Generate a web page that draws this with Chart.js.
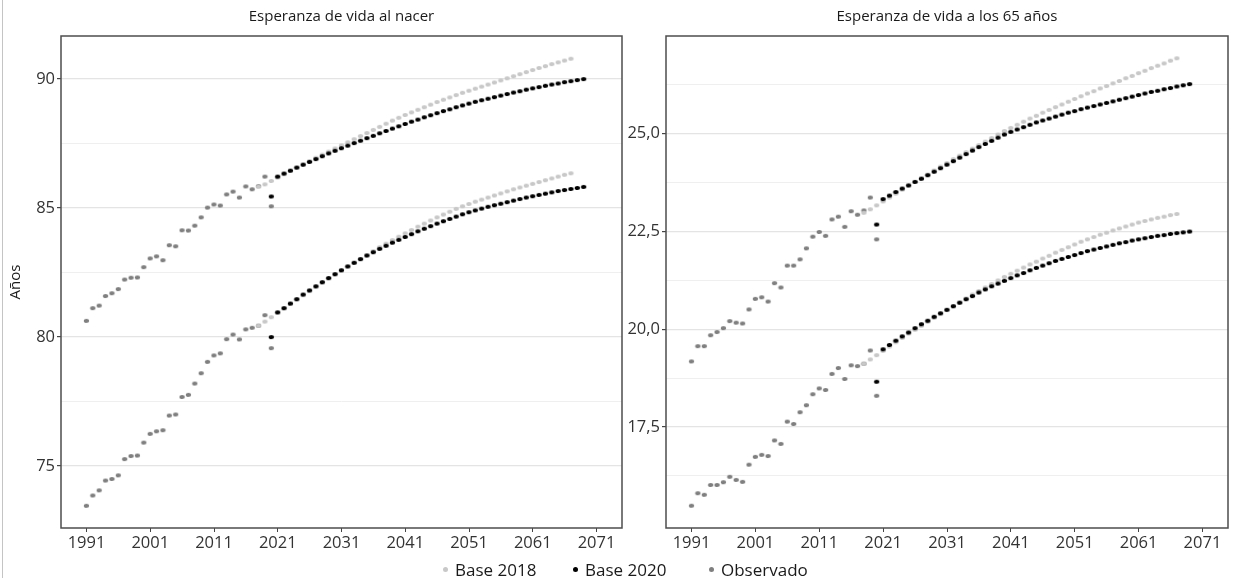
<!DOCTYPE html>
<html lang="es">
<head>
<meta charset="utf-8">
<title>Esperanza de vida</title>
<script src="https://cdn.jsdelivr.net/npm/chart.js@4.4.1/dist/chart.umd.min.js"></script>
<style>
  html, body { margin: 0; padding: 0; background: #ffffff; }
  body { width: 1234px; height: 578px; position: relative; overflow: hidden;
         font-family: "Open Sans", "Noto Sans", sans-serif; }
  canvas { position: absolute; top: 0; }
  #cNacer { left: 0; }
  #c65 { left: 626px; }
  #edge { position: absolute; left: 2px; top: 0; width: 1px; height: 578px; background: #c4c4c4; }
  .leg { position: absolute; top: 558px; height: 22px; display: flex; align-items: center;
         font-size: 17px; color: #1a1a1a; white-space: nowrap; }
  .leg i { display: inline-block; width: 5px; height: 5px; border-radius: 50%; margin-right: 7px; }
</style>
</head>
<body>
<canvas id="cNacer" width="626" height="578"></canvas>
<canvas id="c65" width="608" height="578"></canvas>
<div id="edge"></div>
<div class="leg" style="left:443px"><i style="background:#c8c8c8"></i>Base 2018</div>
<div class="leg" style="left:573px"><i style="background:#000000"></i>Base 2020</div>
<div class="leg" style="left:709px"><i style="background:#7f7f7f"></i>Observado</div>
<script>
// ---- Years ----
const obsYears = [1991,1992,1993,1994,1995,1996,1997,1998,1999,2000,
  2001,2002,2003,2004,2005,2006,2007,2008,2009,2010,
  2011,2012,2013,2014,2015,2016,2017,2018,2019,2020];
const base2018Years = [2018,2019,2020,2021,2022,2023,2024,2025,2026,2027,
  2028,2029,2030,2031,2032,2033,2034,2035,2036,2037,
  2038,2039,2040,2041,2042,2043,2044,2045,2046,2047,
  2048,2049,2050,2051,2052,2053,2054,2055,2056,2057,
  2058,2059,2060,2061,2062,2063,2064,2065,2066,2067];
const base2020Years = [2020,2021,2022,2023,2024,2025,2026,2027,2028,2029,
  2030,2031,2032,2033,2034,2035,2036,2037,2038,2039,
  2040,2041,2042,2043,2044,2045,2046,2047,2048,2049,
  2050,2051,2052,2053,2054,2055,2056,2057,2058,2059,
  2060,2061,2062,2063,2064,2065,2066,2067,2068,2069];

// ---- Esperanza de vida al nacer ----
const nacerObsMujeres = [80.63,81.12,81.22,81.59,81.70,81.86,82.23,82.30,82.31,82.71,
  83.05,83.13,82.98,83.56,83.52,84.14,84.13,84.32,84.64,85.02,
  85.14,85.10,85.53,85.64,85.41,85.84,85.73,85.85,86.22,85.07];
const nacerObsHombres = [73.46,73.86,74.06,74.44,74.50,74.64,75.27,75.39,75.41,75.91,
  76.25,76.35,76.39,76.96,77.00,77.68,77.76,78.20,78.60,79.04,
  79.29,79.37,79.92,80.10,79.91,80.30,80.36,80.44,80.85,79.57];
const nacerB18Mujeres = [85.83,85.92,86.05,86.18,86.31,86.44,86.57,86.70,86.82,86.95,
  87.07,87.19,87.31,87.43,87.55,87.67,87.79,87.91,88.03,88.15,
  88.27,88.39,88.50,88.61,88.71,88.81,88.91,89.01,89.11,89.20,
  89.29,89.38,89.47,89.55,89.63,89.71,89.79,89.87,89.95,90.03,
  90.11,90.19,90.27,90.35,90.43,90.50,90.58,90.65,90.72,90.79];
const nacerB18Hombres = [80.44,80.60,80.77,80.94,81.11,81.28,81.45,81.62,81.78,81.94,
  82.10,82.26,82.42,82.58,82.73,82.88,83.03,83.18,83.33,83.48,
  83.62,83.76,83.89,84.02,84.15,84.28,84.40,84.52,84.64,84.75,
  84.86,84.97,85.07,85.16,85.25,85.33,85.41,85.49,85.57,85.65,
  85.73,85.80,85.87,85.94,86.01,86.08,86.15,86.22,86.29,86.35];
const nacerB20Mujeres = [85.45,86.22,86.34,86.45,86.57,86.68,86.79,86.90,87.01,87.12,
  87.22,87.32,87.42,87.52,87.61,87.71,87.80,87.90,87.99,88.08,
  88.17,88.26,88.35,88.43,88.52,88.60,88.68,88.76,88.83,88.91,
  88.98,89.05,89.12,89.18,89.24,89.30,89.36,89.42,89.48,89.53,
  89.59,89.64,89.69,89.74,89.79,89.83,89.88,89.92,89.96,90.00];
const nacerB20Hombres = [80.00,80.96,81.12,81.30,81.47,81.65,81.81,81.97,82.13,82.29,
  82.44,82.59,82.74,82.88,83.02,83.16,83.29,83.42,83.54,83.66,
  83.77,83.88,83.99,84.10,84.20,84.30,84.40,84.49,84.58,84.67,
  84.76,84.84,84.91,84.98,85.05,85.11,85.17,85.23,85.29,85.35,
  85.41,85.46,85.51,85.56,85.61,85.66,85.70,85.74,85.78,85.82];

// ---- Esperanza de vida a los 65 años ----
const e65ObsMujeres = [19.18,19.57,19.57,19.85,19.93,20.03,20.21,20.17,20.15,20.51,
  20.78,20.82,20.71,21.18,21.07,21.63,21.63,21.79,22.07,22.37,
  22.49,22.39,22.81,22.88,22.62,23.02,22.93,23.04,23.37,22.30];
const e65ObsHombres = [15.49,15.81,15.77,16.02,16.02,16.09,16.23,16.15,16.10,16.54,
  16.74,16.79,16.76,17.16,17.07,17.64,17.58,17.88,18.06,18.34,
  18.49,18.45,18.86,19.01,18.73,19.08,19.06,19.12,19.46,18.30];
const e65B18Mujeres = [22.98,23.07,23.17,23.27,23.37,23.47,23.57,23.67,23.77,23.87,
  23.96,24.06,24.16,24.25,24.35,24.44,24.53,24.62,24.71,24.80,
  24.89,24.98,25.07,25.15,25.23,25.31,25.39,25.46,25.54,25.61,
  25.68,25.75,25.82,25.89,25.96,26.03,26.09,26.16,26.22,26.29,
  26.35,26.42,26.48,26.55,26.61,26.68,26.74,26.80,26.87,26.93];
const e65B18Hombres = [19.12,19.23,19.34,19.45,19.56,19.67,19.78,19.89,19.99,20.09,
  20.19,20.29,20.39,20.49,20.59,20.69,20.79,20.89,20.98,21.07,
  21.16,21.25,21.34,21.42,21.50,21.58,21.66,21.73,21.81,21.88,
  21.96,22.03,22.10,22.17,22.24,22.30,22.36,22.42,22.47,22.53,
  22.58,22.63,22.68,22.73,22.77,22.81,22.85,22.88,22.92,22.95];
const e65B20Mujeres = [22.68,23.33,23.42,23.51,23.60,23.68,23.77,23.85,23.94,24.03,
  24.12,24.21,24.30,24.39,24.48,24.57,24.66,24.74,24.82,24.90,
  24.98,25.05,25.11,25.17,25.23,25.29,25.34,25.39,25.44,25.49,
  25.54,25.58,25.63,25.67,25.71,25.75,25.79,25.83,25.87,25.91,
  25.95,25.99,26.03,26.07,26.10,26.14,26.17,26.21,26.24,26.27];
const e65B20Hombres = [18.66,19.49,19.60,19.71,19.82,19.92,20.03,20.13,20.22,20.32,
  20.41,20.50,20.59,20.68,20.77,20.85,20.94,21.02,21.10,21.17,
  21.24,21.31,21.38,21.44,21.51,21.57,21.63,21.69,21.75,21.80,
  21.85,21.90,21.95,22.00,22.04,22.08,22.12,22.16,22.20,22.23,
  22.27,22.30,22.33,22.36,22.39,22.41,22.44,22.46,22.48,22.50];

// ---- Axis ticks ----
const xTicks = [1991,2001,2011,2021,2031,2041,2051,2061,2071];
const nacerYTicks = [75,80,85,90];
const nacerYMinor = [77.5,82.5,87.5];
const e65YTicks = [17.5,20,22.5,25];
const e65YMinor = [16.25,18.75,21.25,23.75,26.25];

const COLORS = { b18: '#c8c8c8', b20: '#000000', obs: '#7f7f7f' };
const FONT = '"Open Sans", "Noto Sans", sans-serif';

// small elliptical marker
function dot(color) {
  const c = document.createElement('canvas');
  c.width = 7; c.height = 6;
  const g = c.getContext('2d');
  g.fillStyle = color;
  g.beginPath();
  g.ellipse(3.5, 3, 2.7, 2.1, 0, 0, Math.PI * 2);
  g.fill();
  return c;
}

function pairs(years, values) {
  return years.map((y, i) => ({ x: y, y: values[i] }));
}

// panel frame around the plotting area
const framePlugin = {
  id: 'frame',
  afterDraw(chart) {
    const a = chart.chartArea, ctx = chart.ctx;
    ctx.save();
    ctx.strokeStyle = '#4d4d4d';
    ctx.lineWidth = 1.5;
    ctx.strokeRect(a.left, a.top, a.right - a.left, a.bottom - a.top);
    ctx.restore();
  }
};

function panel(canvasId, opts) {
  const datasets = [
    { label: 'Base 2020', order: 0,
      data: pairs(base2020Years, opts.b20M).concat(pairs(base2020Years, opts.b20H)),
      pointStyle: dot(COLORS.b20) },
    { label: 'Base 2018', order: 1,
      data: pairs(base2018Years, opts.b18M).concat(pairs(base2018Years, opts.b18H)),
      pointStyle: dot(COLORS.b18) },
    { label: 'Observado', order: 2,
      data: pairs(obsYears, opts.obsM).concat(pairs(obsYears, opts.obsH)),
      pointStyle: dot(COLORS.obs) }
  ];
  const major = new Set(opts.yTicks);
  const allY = opts.yTicks.concat(opts.yMinor).sort((a, b) => a - b);
  return new Chart(document.getElementById(canvasId), {
    type: 'scatter',
    data: { datasets },
    options: {
      responsive: false, animation: false, devicePixelRatio: 1,
      events: [],
      layout: { padding: { left: 0, right: opts.padRight, top: 0, bottom: 24 } },
      elements: { point: { radius: 3, hoverRadius: 3 } },
      plugins: {
        legend: { display: false },
        tooltip: { enabled: false },
        title: {
          display: true, text: opts.title, fullSize: false, color: '#1a1a1a',
          font: { family: FONT, size: 15, weight: 'normal' },
          padding: { top: 8, bottom: 10 }
        }
      },
      scales: {
        x: {
          type: 'linear', min: 1987, max: 2075,
          afterBuildTicks: s => { s.ticks = xTicks.map(v => ({ value: v })); },
          afterFit: s => { s.height = 26; },
          ticks: { callback: v => String(v), color: '#333333', padding: 1,
                   maxRotation: 0, autoSkip: false,
                   font: { family: FONT, size: 16.5 } },
          grid: { drawOnChartArea: false, tickLength: 4, tickColor: '#444444', tickWidth: 1 },
          border: { display: false }
        },
        y: {
          type: 'linear', min: opts.yMin, max: opts.yMax,
          afterBuildTicks: s => { s.ticks = allY.map(v => ({ value: v })); },
          afterFit: s => { s.width = opts.yWidth; },
          ticks: { callback: v => major.has(v) ? opts.fmt(v) : '', color: '#333333',
                   padding: 2, autoSkip: false, font: { family: FONT, size: 16.5 } },
          grid: {
            color: c => major.has(c.tick.value) ? '#e4e4e4' : '#efefef',
            lineWidth: c => major.has(c.tick.value) ? 1.2 : 1,
            tickLength: 4,
            tickColor: c => major.has(c.tick.value) ? '#444444' : 'rgba(0,0,0,0)'
          },
          border: { display: false },
          title: opts.yTitle ? { display: true, text: opts.yTitle, color: '#1a1a1a',
                   font: { family: FONT, size: 15 }, padding: { top: 7, bottom: 0 } }
                 : { display: false }
        }
      }
    },
    plugins: [framePlugin]
  });
}

panel('cNacer', {
  title: 'Esperanza de vida al nacer', yTitle: 'Años',
  yMin: 72.6, yMax: 91.67, yTicks: nacerYTicks, yMinor: nacerYMinor,
  fmt: v => String(v), yWidth: 61, padRight: 3,
  obsM: nacerObsMujeres, obsH: nacerObsHombres,
  b18M: nacerB18Mujeres, b18H: nacerB18Hombres,
  b20M: nacerB20Mujeres, b20H: nacerB20Hombres
});

panel('c65', {
  title: 'Esperanza de vida a los 65 años', yTitle: null,
  yMin: 14.92, yMax: 27.5, yTicks: e65YTicks, yMinor: e65YMinor,
  fmt: v => v.toFixed(1).replace('.', ','), yWidth: 40, padRight: 6,
  obsM: e65ObsMujeres, obsH: e65ObsHombres,
  b18M: e65B18Mujeres, b18H: e65B18Hombres,
  b20M: e65B20Mujeres, b20H: e65B20Hombres
});
</script>
</body>
</html>
